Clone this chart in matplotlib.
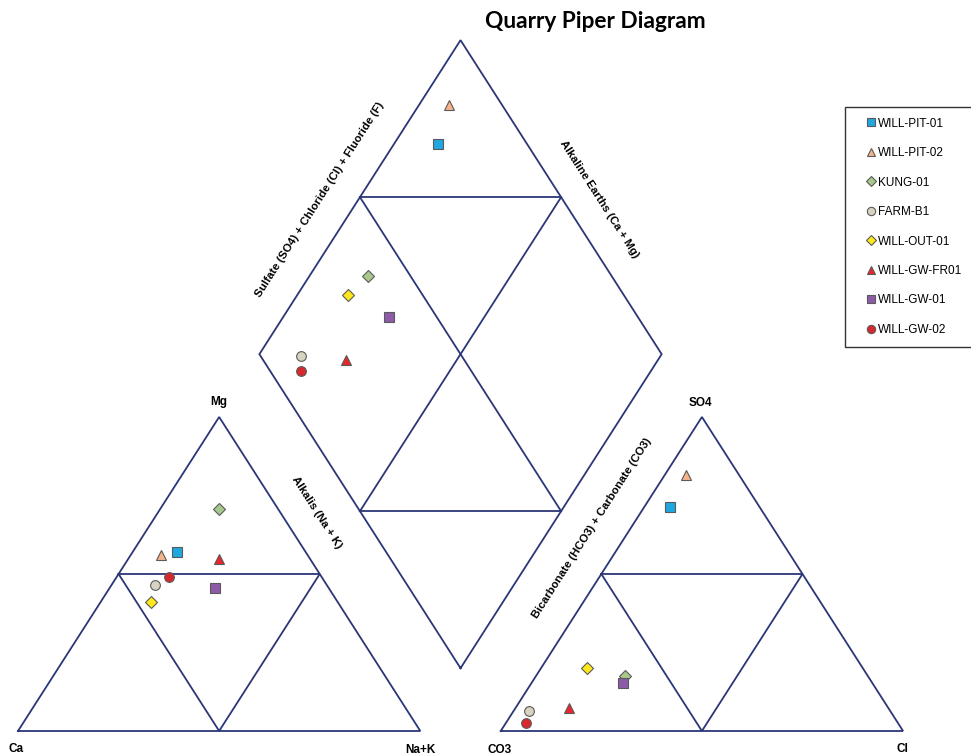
import numpy as np
import matplotlib
matplotlib.use("Agg")
import matplotlib.pyplot as plt
from matplotlib.lines import Line2D

# sample names and marker styles
samples = ["WILL-PIT-01", "WILL-PIT-02", "KUNG-01", "FARM-B1",
           "WILL-OUT-01", "WILL-GW-FR01", "WILL-GW-01", "WILL-GW-02"]
markers = ["s", "^", "D", "o", "D", "^", "s", "o"]
colors = ["#1fa7e0", "#f5b48a", "#a9c98c", "#d8d3c0",
          "#ffe81a", "#e8262d", "#8e5ba8", "#d7282d"]

# cations, percent of meq
ca = [32.0, 36.5, 14.7, 42.7, 46.4, 22.6, 28.3, 38.0]
mg = [57.0, 56.0, 70.7, 46.5, 41.1, 54.8, 45.5, 49.0]
na_k = [11.0, 7.5, 14.6, 10.8, 12.5, 22.6, 26.2, 13.0]

# anions, percent of meq
hco3_co3 = [22.2, 13.1, 60.4, 89.9, 68.5, 79.3, 61.9, 92.4]
so4 = [71.4, 81.5, 17.5, 6.4, 20.0, 7.4, 15.2, 2.5]
cl = [6.4, 5.4, 22.1, 3.7, 11.5, 13.3, 22.9, 5.1]

LINE = "#2b3677"
H = np.sqrt(3) / 2
GAP = 0.2

# pixel scale of the layout, used to convert label spots and text angles
SX, SY = 402.3, 362.6
X0, Y0 = 18.0, 731.0


def px(x, y):
    return (x - X0) / SX, (Y0 - y) / SY


def cation_xy(c, m, n):
    tot = c + m + n
    m, n = m / tot, n / tot
    return n + m / 2, m * H


def anion_xy(a, s, c):
    tot = a + s + c
    s, c = s / tot, c / tot
    return 1 + GAP + c + s / 2, s * H


def diamond_xy(c, m, n, a, s, cc):
    nk = n / (c + m + n)
    sc = (s + cc) / (a + s + cc)
    bx, by = 1 + GAP / 2, GAP * H
    x = bx - 0.5 * (1 - nk) + 0.5 * sc
    y = by + H * (1 - nk) + H * sc
    return x, y


def draw_frames(ax):
    kw = dict(color=LINE, lw=1.3, solid_joinstyle="miter")
    for ox in (0, 1 + GAP):
        ax.plot([ox, ox + 1, ox + 0.5, ox], [0, 0, H, 0], **kw)
        # inner triangle through the midpoints of the sides
        ax.plot([ox + 0.25, ox + 0.75, ox + 0.5, ox + 0.25],
                [H / 2, H / 2, 0, H / 2], **kw)
    b = (1 + GAP / 2, GAP * H)
    l = (b[0] - 0.5, b[1] + H)
    r = (b[0] + 0.5, b[1] + H)
    t = (b[0], b[1] + 2 * H)
    ax.plot([b[0], l[0], t[0], r[0], b[0]], [b[1], l[1], t[1], r[1], b[1]], **kw)
    mid = lambda p, q: ((p[0] + q[0]) / 2, (p[1] + q[1]) / 2)
    ul, ur = mid(l, t), mid(r, t)
    ll, lr = mid(l, b), mid(r, b)
    ax.plot([ul[0], ur[0]], [ul[1], ur[1]], **kw)
    ax.plot([ll[0], lr[0]], [ll[1], lr[1]], **kw)
    ax.plot([ul[0], lr[0]], [ul[1], lr[1]], **kw)
    ax.plot([ur[0], ll[0]], [ur[1], ll[1]], **kw)


def main():
    fig = plt.figure(figsize=(9.71, 7.56), dpi=100)
    ax = fig.add_axes([0, 0, 1, 1])
    ax.set_xlim(-X0 / SX, (971 - X0) / SX)
    ax.set_ylim(-(756 - Y0) / SY, Y0 / SY)
    ax.axis("off")

    draw_frames(ax)

    for i, name in enumerate(samples):
        pts = [cation_xy(ca[i], mg[i], na_k[i]),
               anion_xy(hco3_co3[i], so4[i], cl[i]),
               diamond_xy(ca[i], mg[i], na_k[i], hco3_co3[i], so4[i], cl[i])]
        ms = 7 if markers[i] != "D" else 6.2
        for x, y in pts:
            ax.plot(x, y, marker=markers[i], ms=ms, color=colors[i],
                    mec="#5a5a5a", mew=0.8, ls="none", zorder=5)

    corner = dict(family=["Liberation Sans", "DejaVu Sans"],
                  fontsize=8.5, fontweight="bold", ha="center", va="center")
    for label, (x, y) in [("Mg", (219, 402)), ("Ca", (16, 749)), ("Na+K", (420, 750)),
                          ("SO4", (700, 403)), ("CO3", (500, 750)), ("Cl", (902, 749))]:
        ax.text(*px(x, y), label, **corner)

    ang = np.degrees(np.arctan2(H * SY, 0.5 * SX))
    edge = dict(family=["Liberation Sans", "DejaVu Sans"],
                fontsize=8.2, fontweight="bold", ha="center", va="center",
                rotation_mode="anchor")
    ax.text(*px(320, 200), "Sulfate (SO4) + Chloride (Cl) + Fluoride (F)",
            rotation=ang, **edge)
    ax.text(*px(599, 199), "Alkaline Earths (Ca + Mg)", rotation=-ang, **edge)
    ax.text(*px(317, 513), "Alkalis (Na + K)", rotation=-ang, **edge)
    ax.text(*px(592, 528), "Bicarbonate (HCO3) + Carbonate (CO3)",
            rotation=ang, **edge)

    fig.text(595 / 971, 1 - 22 / 756, "Quarry Piper Diagram",
             family=["Lato", "DejaVu Sans"], fontsize=16.3, fontweight="bold",
             ha="center", va="center")

    handles = [Line2D([], [], marker=m, color=c, mec="#5a5a5a", mew=0.8,
                      ls="none", ms=6 if m != "D" else 5.4)
               for m, c in zip(markers, colors)]
    leg = fig.legend(handles, samples, loc="upper left",
                     bbox_to_anchor=(845 / 971, 1 - 107 / 756),
                     prop=dict(family=["Liberation Sans", "DejaVu Sans"], size=8.5),
                     frameon=True, fancybox=False, edgecolor="black",
                     labelspacing=1.48, handlelength=2.6, handletextpad=-0.7,
                     borderpad=0.9, borderaxespad=0)
    leg.get_frame().set_linewidth(1.0)

    fig.savefig("out.png", dpi=100)


if __name__ == "__main__":
    main()
